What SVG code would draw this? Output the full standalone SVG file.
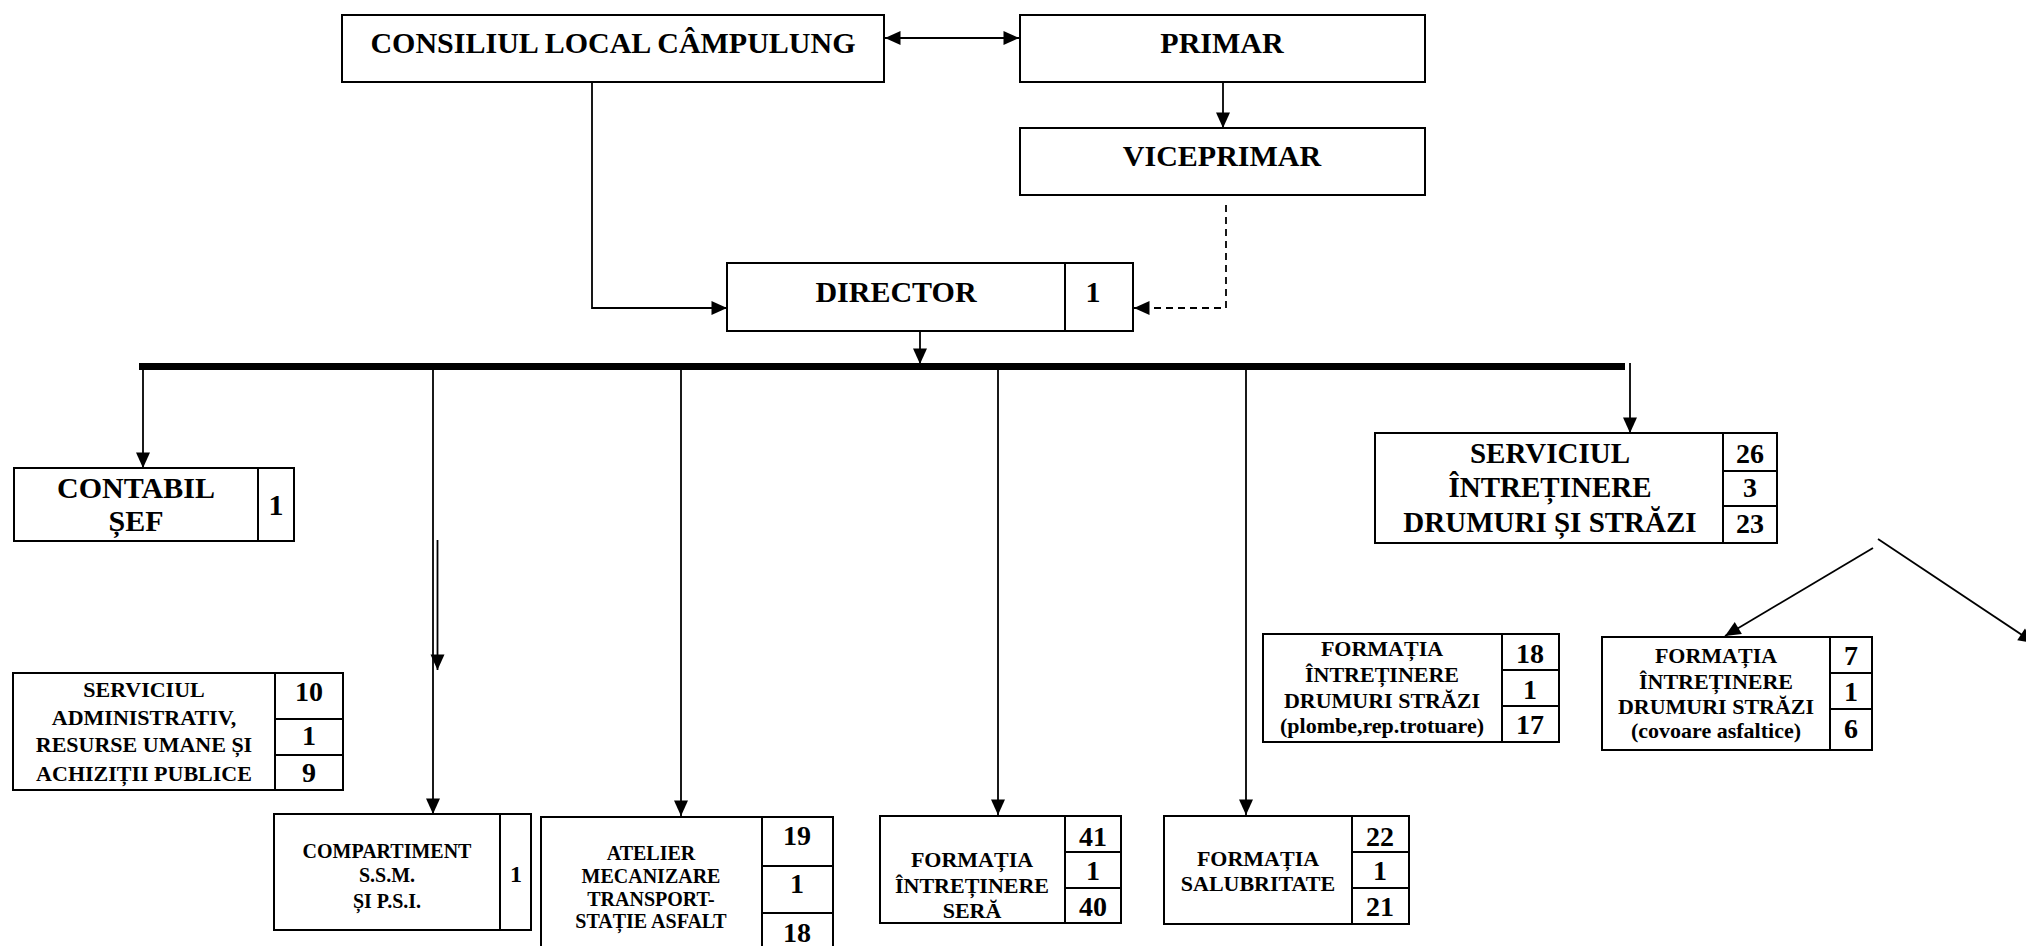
<svg xmlns="http://www.w3.org/2000/svg" width="2026" height="946" viewBox="0 0 2026 946">
<defs>
<style>
.box{fill:#fff;stroke:#000;stroke-width:2}
.dv{stroke:#000;stroke-width:2;fill:none}
.ln{stroke:#000;stroke-width:1.8;fill:none}
.dash{stroke:#000;stroke-width:1.8;fill:none;stroke-dasharray:7 5}
text{font-family:"Liberation Serif","Times New Roman",serif;font-weight:bold;fill:#000;text-anchor:middle}
.f30{font-size:30px}
.f29{font-size:29px}
.f28{font-size:28px}
.f24{font-size:24px}
.f22{font-size:22px}
.f20{font-size:20px}
</style>
<marker id="ah" markerUnits="userSpaceOnUse" markerWidth="18" markerHeight="16" refX="16" refY="7.5" orient="auto-start-reverse">
<path d="M0.5,0.5 L16,7.5 L0.5,14.5 Z" fill="#000"/>
</marker>
</defs>
<rect width="2026" height="946" fill="#fff"/>

<g id="connectors">
<line class="ln" x1="885" y1="38" x2="1019" y2="38" marker-start="url(#ah)" marker-end="url(#ah)"/>
<line class="ln" x1="1223" y1="82" x2="1223" y2="128" marker-end="url(#ah)"/>
<path class="dash" d="M1226,205 V308 H1134" marker-end="url(#ah)"/>
<path class="ln" d="M592,82 V308 H727" marker-end="url(#ah)"/>
<line class="ln" x1="920" y1="331" x2="920" y2="364" marker-end="url(#ah)"/>
<rect x="139" y="363" width="1486" height="7" fill="#000"/>
<line class="ln" x1="143" y1="370" x2="143" y2="468" marker-end="url(#ah)"/>
<line class="ln" x1="433" y1="370" x2="433" y2="814" marker-end="url(#ah)"/>
<line class="ln" x1="437.5" y1="540" x2="437.5" y2="670" marker-end="url(#ah)"/>
<line class="ln" x1="681" y1="370" x2="681" y2="816" marker-end="url(#ah)"/>
<line class="ln" x1="998" y1="370" x2="998" y2="815" marker-end="url(#ah)"/>
<line class="ln" x1="1246" y1="370" x2="1246" y2="815" marker-end="url(#ah)"/>
<line class="ln" x1="1630" y1="363" x2="1630" y2="433" marker-end="url(#ah)"/>
<line class="ln" x1="1873" y1="548" x2="1725" y2="636" marker-end="url(#ah)"/>
<line class="ln" x1="1878" y1="539" x2="2034" y2="643" marker-end="url(#ah)"/>
</g>

<g id="consiliul">
<rect class="box" x="342" y="15" width="542" height="67"/>
<text class="f30" x="613" y="53">CONSILIUL LOCAL CÂMPULUNG</text>
</g>

<g id="primar">
<rect class="box" x="1020" y="15" width="405" height="67"/>
<text class="f30" x="1222" y="53">PRIMAR</text>
</g>

<g id="viceprimar">
<rect class="box" x="1020" y="128" width="405" height="67"/>
<text class="f30" x="1222" y="166">VICEPRIMAR</text>
</g>

<g id="director">
<rect class="box" x="727" y="263" width="406" height="68"/>
<line class="dv" x1="1065" y1="263" x2="1065" y2="331"/>
<text class="f30" x="896" y="302">DIRECTOR</text>
<text class="f30" x="1093" y="302">1</text>
</g>

<g id="contabil">
<rect class="box" x="14" y="468" width="280" height="73"/>
<line class="dv" x1="258" y1="468" x2="258" y2="541"/>
<text class="f30" x="136" y="498">CONTABIL</text>
<text class="f30" x="136" y="531">ȘEF</text>
<text class="f30" x="276" y="515">1</text>
</g>

<g id="administrativ">
<rect class="box" x="13" y="673" width="330" height="117"/>
<line class="dv" x1="275" y1="673" x2="275" y2="790"/>
<line class="dv" x1="275" y1="719" x2="343" y2="719"/>
<line class="dv" x1="275" y1="755" x2="343" y2="755"/>
<text class="f22" x="144" y="697">SERVICIUL</text>
<text class="f22" x="144" y="725">ADMINISTRATIV,</text>
<text class="f22" x="144" y="752">RESURSE UMANE ȘI</text>
<text class="f22" x="144" y="781">ACHIZIȚII PUBLICE</text>
<text class="f28" x="309" y="701">10</text>
<text class="f28" x="309" y="745">1</text>
<text class="f28" x="309" y="782">9</text>
</g>

<g id="compartiment">
<rect class="box" x="274" y="814" width="257" height="116"/>
<line class="dv" x1="500" y1="814" x2="500" y2="930"/>
<text class="f20" x="387" y="858">COMPARTIMENT</text>
<text class="f20" x="387" y="882">S.S.M.</text>
<text class="f20" x="387" y="908">ȘI P.S.I.</text>
<text class="f24" x="516" y="882">1</text>
</g>

<g id="atelier">
<rect class="box" x="541" y="817" width="292" height="140"/>
<line class="dv" x1="762" y1="817" x2="762" y2="957"/>
<line class="dv" x1="762" y1="866" x2="833" y2="866"/>
<line class="dv" x1="762" y1="913" x2="833" y2="913"/>
<text class="f20" x="651" y="860">ATELIER</text>
<text class="f20" x="651" y="883">MECANIZARE</text>
<text class="f20" x="651" y="906">TRANSPORT-</text>
<text class="f20" x="651" y="928">STAȚIE ASFALT</text>
<text class="f28" x="797" y="845">19</text>
<text class="f28" x="797" y="893">1</text>
<text class="f28" x="797" y="942">18</text>
</g>

<g id="sera">
<rect class="box" x="880" y="816" width="241" height="107"/>
<line class="dv" x1="1065" y1="816" x2="1065" y2="923"/>
<line class="dv" x1="1065" y1="852" x2="1121" y2="852"/>
<line class="dv" x1="1065" y1="888" x2="1121" y2="888"/>
<text class="f22" x="972" y="867">FORMAȚIA</text>
<text class="f22" x="972" y="893">ÎNTREȚINERE</text>
<text class="f22" x="972" y="918">SERĂ</text>
<text class="f28" x="1093" y="846">41</text>
<text class="f28" x="1093" y="880">1</text>
<text class="f28" x="1093" y="916">40</text>
</g>

<g id="salubritate">
<rect class="box" x="1164" y="816" width="245" height="108"/>
<line class="dv" x1="1352" y1="816" x2="1352" y2="924"/>
<line class="dv" x1="1352" y1="852" x2="1409" y2="852"/>
<line class="dv" x1="1352" y1="888" x2="1409" y2="888"/>
<text class="f22" x="1258" y="866">FORMAȚIA</text>
<text class="f22" x="1258" y="891">SALUBRITATE</text>
<text class="f28" x="1380" y="846">22</text>
<text class="f28" x="1380" y="880">1</text>
<text class="f28" x="1380" y="916">21</text>
</g>

<g id="formatia-plombe">
<rect class="box" x="1263" y="634" width="296" height="108"/>
<line class="dv" x1="1502" y1="634" x2="1502" y2="742"/>
<line class="dv" x1="1502" y1="670" x2="1559" y2="670"/>
<line class="dv" x1="1502" y1="706" x2="1559" y2="706"/>
<text class="f22" x="1382" y="656">FORMAȚIA</text>
<text class="f22" x="1382" y="682">ÎNTREȚINERE</text>
<text class="f22" x="1382" y="708">DRUMURI STRĂZI</text>
<text class="f22" x="1382" y="733">(plombe,rep.trotuare)</text>
<text class="f28" x="1530" y="663">18</text>
<text class="f28" x="1530" y="699">1</text>
<text class="f28" x="1530" y="734">17</text>
</g>

<g id="formatia-covoare">
<rect class="box" x="1602" y="637" width="270" height="113"/>
<line class="dv" x1="1830" y1="637" x2="1830" y2="750"/>
<line class="dv" x1="1830" y1="673" x2="1872" y2="673"/>
<line class="dv" x1="1830" y1="709" x2="1872" y2="709"/>
<text class="f22" x="1716" y="663">FORMAȚIA</text>
<text class="f22" x="1716" y="689">ÎNTREȚINERE</text>
<text class="f22" x="1716" y="714">DRUMURI STRĂZI</text>
<text class="f22" x="1716" y="738">(covoare asfaltice)</text>
<text class="f28" x="1851" y="665">7</text>
<text class="f28" x="1851" y="701">1</text>
<text class="f28" x="1851" y="738">6</text>
</g>

<g id="serviciul-drumuri">
<rect class="box" x="1375" y="433" width="402" height="110"/>
<line class="dv" x1="1723" y1="433" x2="1723" y2="543"/>
<line class="dv" x1="1723" y1="471" x2="1777" y2="471"/>
<line class="dv" x1="1723" y1="506" x2="1777" y2="506"/>
<text class="f29" x="1550" y="463">SERVICIUL</text>
<text class="f29" x="1550" y="497">ÎNTREȚINERE</text>
<text class="f29" x="1550" y="532">DRUMURI ȘI STRĂZI</text>
<text class="f28" x="1750" y="463">26</text>
<text class="f28" x="1750" y="497">3</text>
<text class="f28" x="1750" y="533">23</text>
</g>
</svg>
